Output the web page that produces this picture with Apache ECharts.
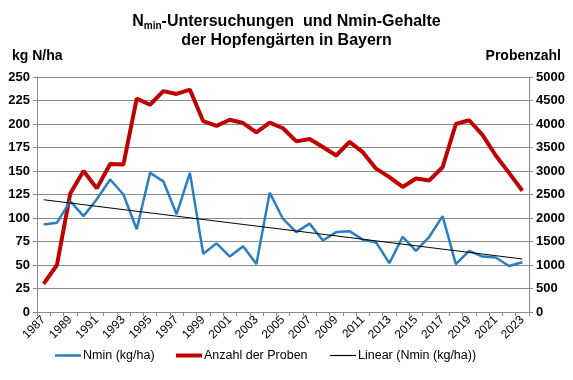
<!DOCTYPE html>
<html><head><meta charset="utf-8">
<script src="https://cdn.jsdelivr.net/npm/echarts@6/dist/echarts.min.js"></script>
<style>html,body{margin:0;padding:0;background:#fff}#c{width:573px;height:380px}</style>
</head><body><div id="c"></div>
<script>
const years = ['1987','1988','1989','1990','1991','1992','1993','1994','1995','1996','1997','1998','1999','2000','2001','2002','2003','2004','2005','2006','2007','2008','2009','2010','2011','2012','2013','2014','2015','2016','2017','2018','2019','2020','2021','2022','2023'];
const nmin = [93,95,118,102,120,141,125,88,148,139,104,148,62,73,59,70,51,127,99,85,94,76,85,86,77,74,52,80,65,80,102,51,65,59,58,49,53];
const proben = [600,1000,2520,3000,2630,3150,3140,4540,4410,4700,4640,4730,4060,3960,4090,4020,3820,4030,3910,3630,3680,3510,3330,3620,3400,3050,2870,2660,2840,2800,3080,4000,4080,3770,3330,2960,2580];
const leftTicks = [0,250,25];
const rightTicks = [0,5000,500];

// Linear least-squares trend of Nmin (as Excel trendline)
const n = nmin.length;
let sx=0, sy=0, sxx=0, sxy=0;
nmin.forEach((v,i)=>{sx+=i; sy+=v; sxx+=i*i; sxy+=i*v;});
const slope = (n*sxy - sx*sy)/(n*sxx - sx*sx);
const icpt = (sy - slope*sx)/n;
const trend = nmin.map((v,i)=> +(icpt + slope*i).toFixed(2));

const FONT = '"Liberation Sans", Arial, sans-serif';
const gridCol = '#8a8a8a';
const BLUE = '#2a7fc2', RED = '#c00000';
const legendBase = {bottom:13, itemWidth:26, itemGap:0, icon:'rect', padding:5,
  textStyle:{fontFamily:FONT,fontSize:12.5,color:'#000',padding:[0,0,0,-3]}};
const chart = echarts.init(document.getElementById('c'), null, {renderer:'canvas'});
chart.setOption({
  animation:false,
  textStyle:{fontFamily:FONT},
  title:[
    {text:'{b|N}{s|min}{b|-Untersuchungen  und Nmin-Gehalte}\n{b|der Hopfengärten in Bayern}',
     left:'center', top:7,
     textStyle:{rich:{
       b:{fontFamily:FONT,fontSize:16,fontWeight:'bold',color:'#000',lineHeight:19},
       s:{fontFamily:FONT,fontSize:10,fontWeight:'bold',color:'#000',lineHeight:19,verticalAlign:'bottom',padding:[8,0,0,0]}
     }}},
    {text:'kg N/ha', left:7, top:44, textStyle:{fontFamily:FONT,fontSize:14,fontWeight:'bold',color:'#000'}},
    {text:'Probenzahl', right:7, top:44, textStyle:{fontFamily:FONT,fontSize:14,fontWeight:'bold',color:'#000'}}
  ],
  grid:{left:37,right:44,top:77,bottom:68,containLabel:false},
  legend:[
    Object.assign({}, legendBase, {left:50, itemHeight:2.5, data:['Nmin (kg/ha)']}),
    Object.assign({}, legendBase, {left:171, itemHeight:4, data:['Anzahl der Proben']}),
    Object.assign({}, legendBase, {left:325, itemHeight:1.2, data:['Linear (Nmin (kg/ha))']})
  ],
  xAxis:{
    type:'category', data:years, boundaryGap:true,
    axisLine:{lineStyle:{color:gridCol,width:1}},
    axisTick:{show:true,length:4,interval:0,lineStyle:{color:gridCol}},
    axisLabel:{interval:1,rotate:45,fontSize:12,color:'#000',fontFamily:FONT,margin:6}
  },
  yAxis:[
    {type:'value',min:leftTicks[0],max:leftTicks[1],interval:leftTicks[2],
     axisLine:{show:true,lineStyle:{color:gridCol}},
     axisTick:{show:true,length:4,lineStyle:{color:gridCol}},
     splitLine:{lineStyle:{color:gridCol,width:1}},
     axisLabel:{fontSize:13,fontWeight:'bold',color:'#000',fontFamily:FONT,margin:7}},
    {type:'value',min:rightTicks[0],max:rightTicks[1],interval:rightTicks[2],position:'right',
     axisLine:{show:true,lineStyle:{color:gridCol}},
     axisTick:{show:true,length:4,lineStyle:{color:gridCol}},
     splitLine:{show:false},
     axisLabel:{fontSize:13,fontWeight:'bold',color:'#000',fontFamily:FONT,margin:7,
       formatter:function(v){return String(v);}}}
  ],
  series:[
    {name:'Nmin (kg/ha)',type:'line',data:nmin,yAxisIndex:0,symbol:'none',z:3,
     lineStyle:{color:BLUE,width:2.5},itemStyle:{color:BLUE}},
    {name:'Anzahl der Proben',type:'line',data:proben,yAxisIndex:1,symbol:'none',z:2,
     lineStyle:{color:RED,width:4},itemStyle:{color:RED}},
    {name:'Linear (Nmin (kg/ha))',type:'line',data:trend,yAxisIndex:0,symbol:'none',z:4,
     lineStyle:{color:'#000',width:1},itemStyle:{color:'#000'}}
  ]
});
</script></body></html>
